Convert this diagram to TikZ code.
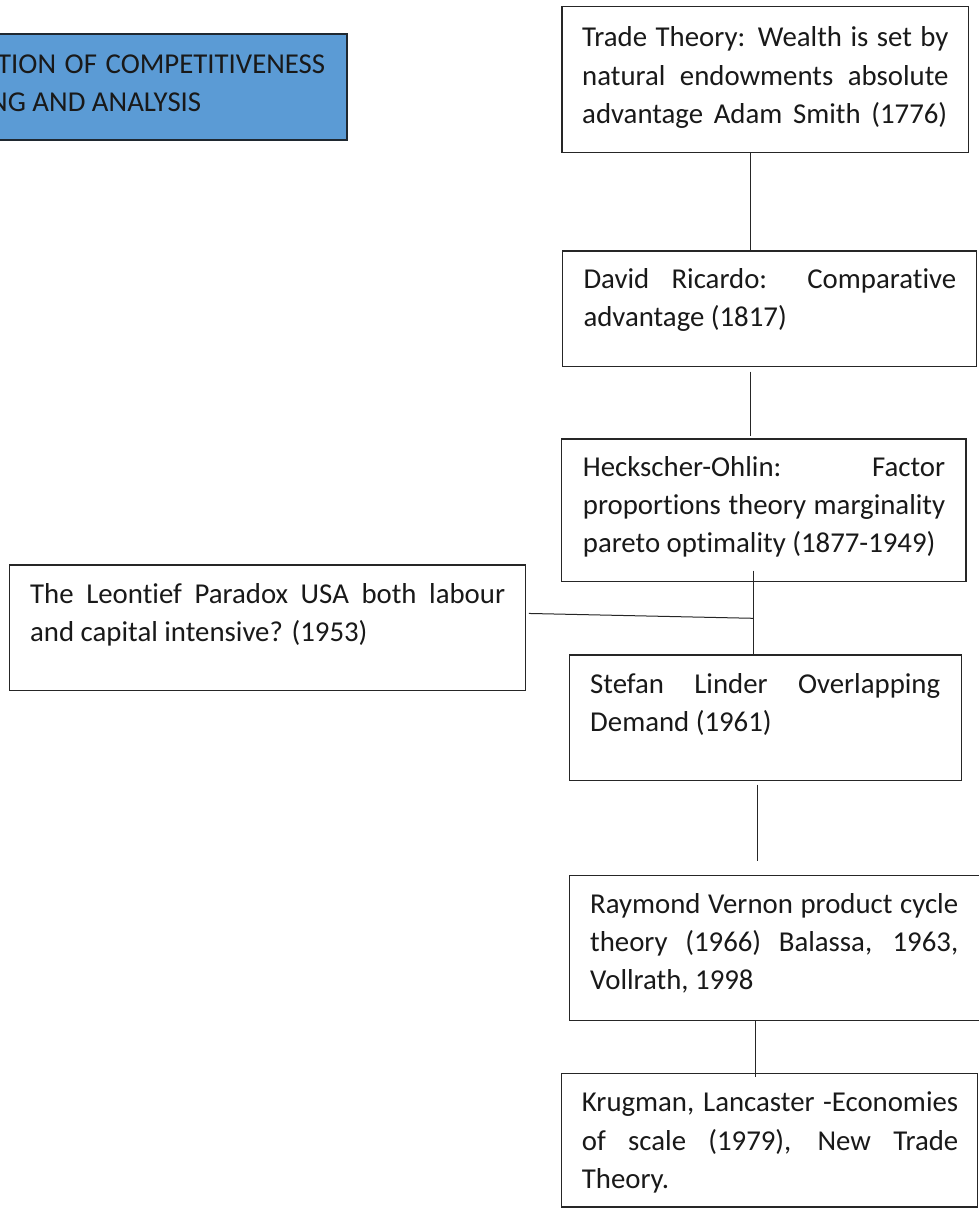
\documentclass[tikz,border=0pt]{standalone}
\usepackage{fontspec}
\setmainfont{Carlito}[Ligatures=CommonOff]
\usetikzlibrary{calc,fit}

% body text of every box
\newcommand\bodyfont{\fontsize{28.8}{38.4}\selectfont}
% a fully justified line of the given width
\newcommand\jline[2]{\makebox[#1pt][s]{#2}}

\definecolor{headblue}{HTML}{5B9BD5}
\definecolor{headline}{HTML}{1F2830}

\tikzset{
  box/.style={draw=black!85, line width=1.1pt, rectangle, inner sep=0pt},
  headbox/.style={box, draw=headline, fill=headblue},
  txt/.style={inner sep=0pt, anchor=base west, text=black!90, font=\bodyfont},
  link/.style={draw=black!85, line width=1pt},
}

\begin{document}
\begin{tikzpicture}[x=1pt, y=-1pt]
\clip (0,0) rectangle (979,1208);
\fill[white] (0,0) rectangle (979,1208);

% heading box, running off the left edge
\node[headbox, fit={(-40,34) (347,140)}] (head) {};
\node[txt] (headT) at (-3,73.3) {\parbox[t]{328pt}{%
  \jline{328}{TION OF COMPETITIVENESS}\\
  \hspace*{-8pt}NG AND ANALYSIS}};

% chain of trade theories
\node[box, fit={(562,6.7) (968.3,152.3)}] (trade) {};
\node[txt] (tradeT) at (582,46.7) {\parbox[t]{366.3pt}{%
  \jline{366.3}{Trade Theory: Wealth is set by}\\
  \jline{366.3}{natural endowments absolute}\\
  \jline{365}{advantage Adam Smith (1776)}}};

\node[box, fit={(562.3,251) (976.7,366.7)}] (ricardo) {};
\node[txt] (ricardoT) at (583.3,288.3) {\parbox[t]{372.7pt}{%
  \jline{372.7}{David Ricardo: Comparative}\\
  advantage (1817)}};

\node[box, fit={(561.7,439) (966,581.7)}] (heck) {};
\node[txt] (heckT) at (582.7,476) {\parbox[t]{362.3pt}{%
  \jline{362.3}{Heckscher-Ohlin: Factor}\\
  \jline{362.3}{proportions theory marginality}\\
  pareto optimality (1877-1949)}};

\node[box, fit={(9.3,565) (525.7,690.7)}] (leontief) {};
\node[txt] (leontiefT) at (30,603.3) {\parbox[t]{475pt}{%
  \jline{475}{The Leontief Paradox USA both labour}\\
  and capital intensive? (1953)}};

\node[box, fit={(569.3,655) (961.7,780.5)}] (linder) {};
\node[txt] (linderT) at (590,693.3) {\parbox[t]{350pt}{%
  \jline{350}{Stefan Linder Overlapping}\\
  Demand (1961)}};

\node[box, fit={(569.3,875.7) (995,1020.7)}] (vernon) {};
\node[txt] (vernonT) at (590,913) {\parbox[t]{368pt}{%
  \jline{368}{Raymond Vernon product cycle}\\
  \jline{368}{theory (1966) Balassa, 1963,}\\
  Vollrath, 1998}};

\node[box, fit={(561.7,1073.3) (977.3,1207)}] (krugman) {};
\node[txt] (krugmanT) at (581.7,1111.7) {\parbox[t]{376.3pt}{%
  \jline{376.3}{Krugman, Lancaster -Economies}\\
  \jline{376.3}{of scale (1979), New Trade}\\
  Theory.}};

% x positions of the vertical links
\coordinate (sp1) at (750.7,0);
\coordinate (jn)  at (753.3,618.3);
\coordinate (sp3) at (757.3,0);
\coordinate (sp4) at (755.7,0);

\draw[link] (trade.south -| sp1) -- (ricardo.north -| sp1);
\draw[link] ($(ricardo.south -| sp1)+(0,4.3)$) -- ($(heck.north -| sp1)+(0,-2)$);
\draw[link] ($(heck.south -| jn)+(0,-11.7)$) -- (linder.north -| jn);
\draw[link] ($(leontief.north east)+(2.6,49)$) -- (jn);
\draw[link] ($(linder.south -| sp3)+(0,3.5)$) -- ($(vernon.north -| sp3)+(0,-14)$);
\draw[link] (vernon.south -| sp4) -- ($(krugman.north -| sp4)+(0,4.7)$);
\end{tikzpicture}
\end{document}
